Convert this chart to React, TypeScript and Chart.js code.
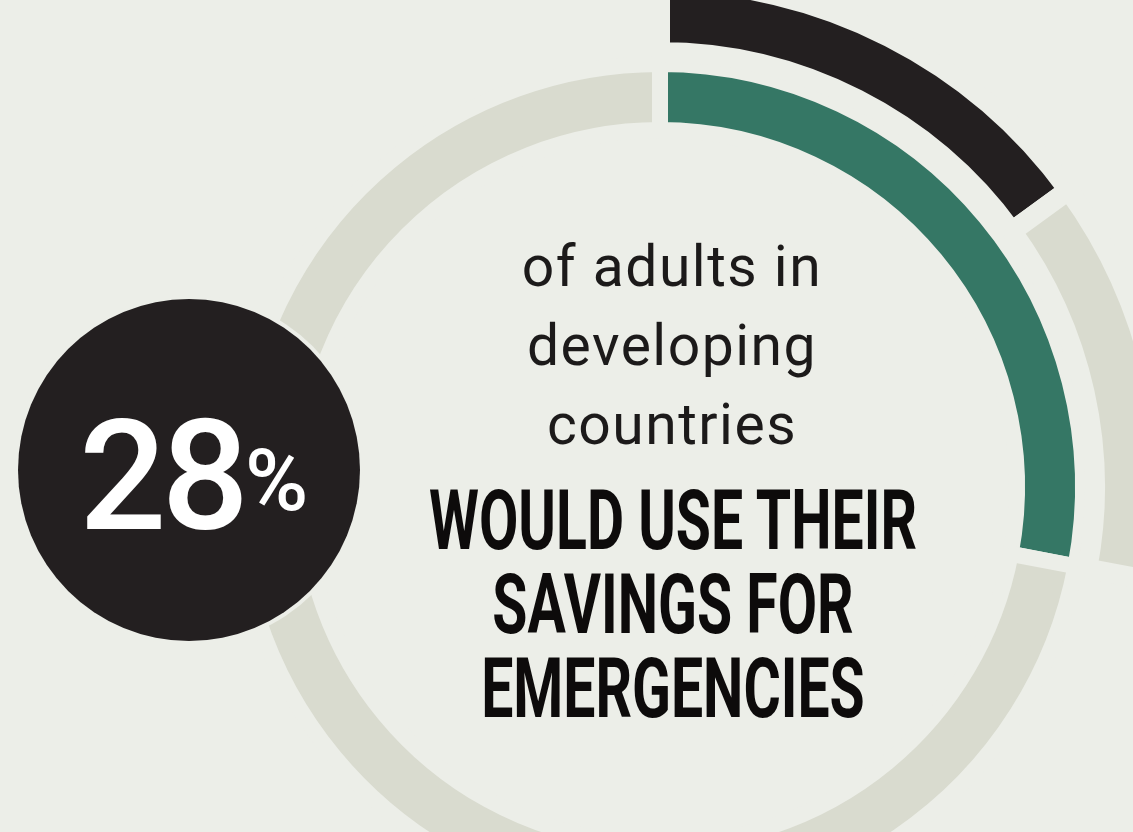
import React, { useEffect, useRef } from "react";
import { Chart, registerables } from "chart.js";

Chart.register(...registerables);

// ---- data ----
const innerLabels = ["Would use savings for emergencies", "Other adults"];
const innerValues = [28, 72];
const outerLabels = ["Highlight", "Remainder", ""];
const outerValues = [15, 13, 72];
const spacerValues = [100];

const headlineValue = "28";
const headlineUnit = "%";
const lightLines = ["of adults in", "developing", "countries"];
const boldLines = ["WOULD USE THEIR", "SAVINGS FOR", "EMERGENCIES"];

// ---- style ----
const BG = "#eceee8";
const GREY = "#d9dbcf";
const GREEN = "#357765";
const BLACK = "#231f20";

export default function App() {
  const canvasRef = useRef<HTMLCanvasElement | null>(null);

  useEffect(() => {
    if (!canvasRef.current) return;
    const chart = new Chart(canvasRef.current, {
      type: "doughnut",
      data: {
        labels: innerLabels,
        datasets: [
          {
            label: "outer",
            data: outerValues,
            backgroundColor: [BLACK, GREY, "rgba(0,0,0,0)"],
            borderColor: [BG, BG, "rgba(0,0,0,0)"],
            borderWidth: [20, 20, 0],
            hoverBorderWidth: [20, 20, 0],
            weight: 70,
          } as any,
          {
            label: "spacer",
            data: spacerValues,
            backgroundColor: ["rgba(0,0,0,0)"],
            borderWidth: 0,
            weight: 12,
          } as any,
          {
            label: "inner",
            data: innerValues,
            backgroundColor: [GREEN, GREY],
            borderColor: [BG, BG],
            borderWidth: 16,
            hoverBorderWidth: 16,
            weight: 66,
          } as any,
        ],
      },
      options: {
        responsive: false,
        animation: false,
        cutout: 357,
        rotation: 0,
        events: [],
        layout: { padding: 0 },
        plugins: {
          legend: { display: false },
          tooltip: { enabled: false },
        },
      } as any,
    });
    return () => chart.destroy();
  }, []);

  const lightTops = [238, 317, 396];
  const boldTops = [479, 563, 647];

  return (
    <div
      style={{
        position: "fixed",
        left: 0,
        top: 0,
        width: 1133,
        height: 832,
        overflow: "hidden",
        background: BG,
      }}
    >
      <div style={{ position: "absolute", left: 145, top: -28, width: 1030, height: 1030 }}>
        <canvas ref={canvasRef} width={1030} height={1030} style={{ width: 1030, height: 1030 }} />
      </div>

      {/* black badge */}
      <div
        style={{
          position: "absolute",
          left: 18,
          top: 299,
          width: 342,
          height: 342,
          borderRadius: "50%",
          background: BLACK,
          boxShadow: `0 0 0 4px ${BG}`,
        }}
      />
      <div
        style={{
          position: "absolute",
          left: 79,
          top: 399,
          fontFamily: "Roboto, sans-serif",
          fontWeight: 500,
          fontSize: 154,
          lineHeight: "156px",
          color: "#ffffff",
          whiteSpace: "nowrap",
          letterSpacing: -5,
        }}
      >
        {headlineValue}
      </div>
      <div
        style={{
          position: "absolute",
          left: 245,
          top: 437,
          fontFamily: "Roboto, sans-serif",
          fontWeight: 500,
          fontSize: 86,
          lineHeight: "87px",
          color: "#ffffff",
          whiteSpace: "nowrap",
        }}
      >
        {headlineUnit}
      </div>

      {lightLines.map((t, i) => (
        <div
          key={"l" + i}
          style={{
            position: "absolute",
            left: 372,
            width: 600,
            top: lightTops[i],
            textAlign: "center",
            fontFamily: "Roboto, sans-serif",
            fontWeight: 400,
            fontSize: 57,
            lineHeight: "57px",
            letterSpacing: 1.5,
            color: "#1c1a1a",
            whiteSpace: "nowrap",
          }}
        >
          {t}
        </div>
      ))}

      {boldLines.map((t, i) => (
        <div
          key={"b" + i}
          style={{
            position: "absolute",
            left: 273,
            width: 800,
            top: boldTops[i],
            textAlign: "center",
            fontFamily: "Roboto, sans-serif",
            fontWeight: 700,
            fontSize: 84,
            lineHeight: "84px",
            color: "#0d0b0b",
            whiteSpace: "nowrap",
            transform: "scaleX(0.68)",
            transformOrigin: "50% 50%",
          }}
        >
          {t}
        </div>
      ))}
    </div>
  );
}
